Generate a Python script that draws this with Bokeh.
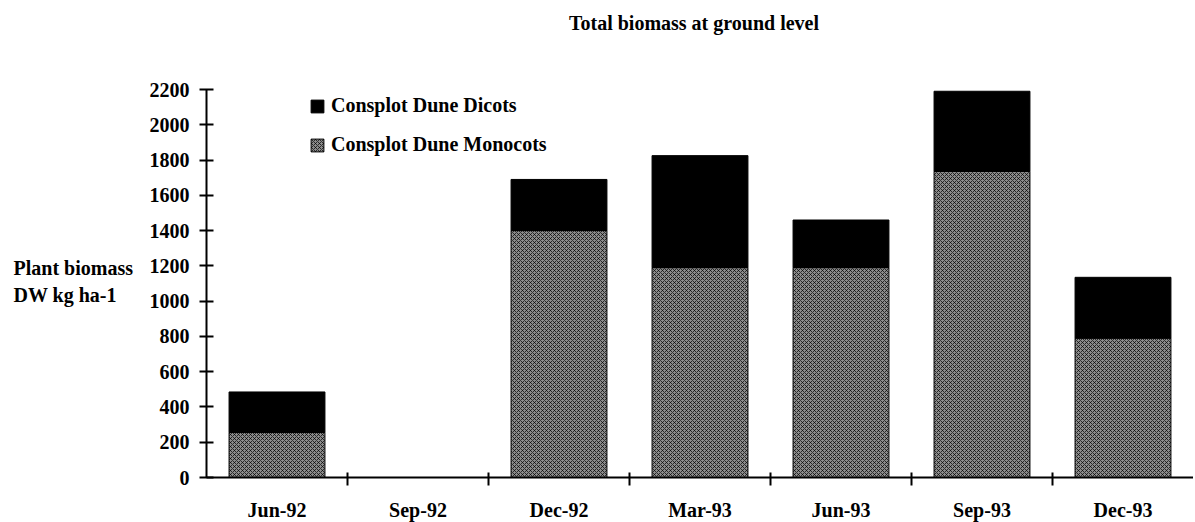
from bokeh.plotting import figure
from bokeh.models import FixedTicker, Legend, LegendItem, ColumnDataSource, Range1d, Label
from bokeh.transform import stack
from bokeh.embed import file_html
from bokeh.resources import INLINE

categories = ["Jun-92", "Sep-92", "Dec-92", "Mar-93", "Jun-93", "Sep-93", "Dec-93"]
monocots = [255, 0, 1400, 1190, 1190, 1735, 790]
dicots = [230, 0, 290, 635, 270, 455, 345]
y_ticks = [0, 200, 400, 600, 800, 1000, 1200, 1400, 1600, 1800, 2000, 2200]
title_text = "Total  biomass at ground level"
y_label_lines = ["Plant biomass", "DW kg ha-1"]
series_labels = ["Consplot Dune Dicots", "Consplot Dune Monocots"]

FONT = "Liberation Serif"
FS = "20px"
W, H = 1193, 522
AX_LEFT, AX_BOTTOM, AX_TOP = 206, 477, 89   # pixel positions of the axes box
n = len(categories)
cat_px = (W - AX_LEFT) / n
y_px = (AX_BOTTOM - AX_TOP) / y_ticks[-1]

xs = [i + 0.5 for i in range(n)]
source = ColumnDataSource(dict(x=xs, monocots=monocots, dicots=dicots))

p = figure(
    width=W, height=H,
    x_range=Range1d(-AX_LEFT / cat_px, n),
    y_range=Range1d(-(H - AX_BOTTOM) / y_px, AX_BOTTOM / y_px),
    output_backend="svg", toolbar_location=None,
    min_border=0,
)
p.outline_line_color = None
p.xgrid.visible = False
p.ygrid.visible = False
p.background_fill_color = "white"
p.border_fill_color = "white"

r_mono = p.vbar(x="x", width=0.68, bottom=0, top=stack("monocots"), source=source,
                fill_color="#8c8c8c", line_color="black", line_width=1,
                hatch_pattern="x", hatch_color="black", hatch_scale=4, hatch_weight=1, hatch_alpha=0.7)
r_dic = p.vbar(x="x", width=0.68, bottom=stack("monocots"), top=stack("monocots", "dicots"), source=source,
               fill_color="black", line_color="black", line_width=1)

# axes drawn inside the frame
p.xaxis.fixed_location = 0
p.xaxis.bounds = (0, n)
p.xaxis.ticker = FixedTicker(ticks=xs, minor_ticks=list(range(1, n)))
p.xaxis.major_label_overrides = {x: c for x, c in zip(xs, categories)}
p.xaxis.major_tick_line_color = None
p.xaxis.major_tick_in = 0
p.xaxis.major_tick_out = 0
p.xaxis.minor_tick_line_color = "black"
p.xaxis.minor_tick_line_width = 2
p.xaxis.minor_tick_in = 5
p.xaxis.minor_tick_out = 8
p.xaxis.major_label_standoff = 13

p.yaxis.fixed_location = 0
p.yaxis.bounds = (0, y_ticks[-1])
p.yaxis.ticker = FixedTicker(ticks=y_ticks)
p.yaxis.minor_tick_line_color = None
p.yaxis.major_tick_in = 7
p.yaxis.major_tick_out = 7
p.yaxis.major_tick_line_width = 2
p.yaxis.major_label_standoff = 10

for ax in (p.xaxis[0], p.yaxis[0]):
    ax.axis_line_width = 2
    ax.axis_line_color = "black"
    ax.major_label_text_font = FONT
    ax.major_label_text_font_style = "bold"
    ax.major_label_text_font_size = FS
    ax.major_label_text_color = "black"

# title and y label (screen units from bottom-left of the frame = whole figure)
p.add_layout(Label(x=696, y=H - 22, x_units="screen", y_units="screen", text=title_text,
                   text_font=FONT, text_font_style="bold", text_font_size=FS, text_color="black",
                   text_align="center", text_baseline="alphabetic"))
for line, base in zip(y_label_lines, [267, 294]):
    p.add_layout(Label(x=13, y=H - base, x_units="screen", y_units="screen", text=line,
                       text_font=FONT, text_font_style="bold", text_font_size=FS, text_color="black",
                       text_align="left", text_baseline="alphabetic"))

legend = Legend(
    items=[LegendItem(label=series_labels[0], renderers=[r_dic]),
           LegendItem(label=series_labels[1], renderers=[r_mono])],
    location=(309, H - 156),
)
legend.border_line_color = None
legend.background_fill_alpha = 0
legend.padding = 0
legend.margin = 0
legend.glyph_width = 16
legend.glyph_height = 16
legend.label_height = 21
legend.spacing = 16
legend.label_standoff = 6
legend.label_text_font = FONT
legend.label_text_font_style = "bold"
legend.label_text_font_size = FS
legend.label_text_color = "black"
p.add_layout(legend)

open("out.html", "w").write(file_html(p, INLINE))
